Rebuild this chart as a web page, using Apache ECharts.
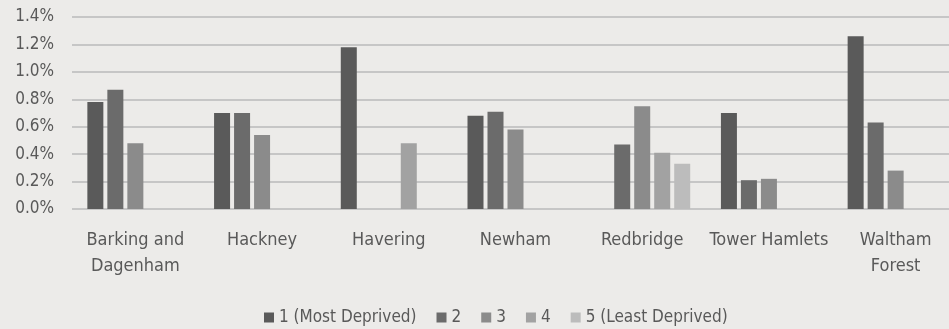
<!DOCTYPE html>
<html>
<head>
<meta charset="utf-8">
<script src="https://cdn.jsdelivr.net/npm/echarts@6/dist/echarts.min.js"></script>
<style>
  html, body { margin: 0; padding: 0; background: #ecebe9; overflow: hidden; }
  /* a little wider than the window: the original is cropped on the right */
  #chart { width: 959px; height: 329px; }
</style>
</head>
<body>
<div id="chart"></div>
<script>
// boroughs
var boroughs = ['Barking and\nDagenham', 'Hackney', 'Havering', 'Newham', 'Redbridge', 'Tower Hamlets', 'Waltham\nForest'];
var seriesNames = ['1 (Most Deprived)', '2', '3', '4', '5 (Least Deprived)'];
// values in %, 0 = no bar
var q1 = [0.78, 0.70, 1.18, 0.68, 0, 0.70, 1.26];
var q2 = [0.87, 0.70, 0, 0.71, 0.47, 0.21, 0.63];
var q3 = [0.48, 0.54, 0, 0.58, 0.75, 0.22, 0.28];
var q4 = [0, 0, 0.48, 0, 0.41, 0, 0];
var q5 = [0, 0, 0, 0, 0.33, 0, 0];
var colors = ['#5a5a5a', '#6b6b6b', '#8b8b8b', '#a2a2a2', '#bcbcbc'];

var font = '"Liberation Sans Narrow", "DejaVu Sans Condensed", sans-serif';
var chart = echarts.init(document.getElementById('chart'));

var allData = [q1, q2, q3, q4, q5];
var series = allData.map(function (d, i) {
  return {
    name: seriesNames[i],
    type: 'bar',
    data: d.map(function (v) { return v === 0 ? null : v; }),
    barWidth: 16,
    barGap: '25%',
    itemStyle: { color: colors[i] }
  };
});

chart.setOption({
  backgroundColor: '#ecebe9',
  color: colors,
  animation: false,
  grid: { left: 72, right: 0, top: 17, height: 192 },
  legend: {
    top: 304,
    left: 259,
    icon: 'rect',
    itemWidth: 10,
    itemHeight: 10,
    itemGap: 20,
    textStyle: { color: '#595959', fontSize: 17, fontFamily: font }
  },
  xAxis: {
    type: 'category',
    data: boroughs,
    axisLine: { show: false },
    axisTick: { show: false },
    axisLabel: {
      color: '#595959',
      fontSize: 18,
      fontFamily: font,
      margin: 18,
      lineHeight: 26,
      interval: 0
    }
  },
  yAxis: {
    type: 'value',
    min: 0,
    max: 1.4,
    interval: 0.2,
    axisLine: { show: false },
    axisTick: { show: false },
    splitLine: { lineStyle: { color: '#c6c6c6', width: 2 } },
    axisLabel: {
      color: '#595959',
      fontSize: 17,
      fontFamily: font,
      margin: 18,
      formatter: function (v) { return v.toFixed(1) + '%'; }
    }
  },
  series: series
});
</script>
</body>
</html>
